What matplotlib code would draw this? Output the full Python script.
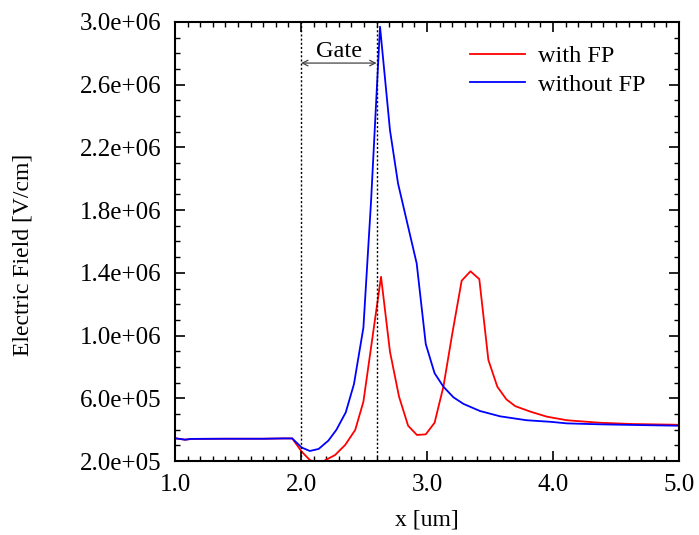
import numpy as np
import matplotlib
matplotlib.use("Agg")
import matplotlib.pyplot as plt
from matplotlib.ticker import MultipleLocator, FixedLocator, FormatStrFormatter

plt.rcParams['font.family'] = ['Liberation Serif', 'DejaVu Serif']

# ----- ----- ----- Data ----- ----- -----
x_without = [1.0, 1.08, 1.13, 1.4, 1.7, 1.86, 1.93, 2.005, 2.07, 2.14, 2.217, 2.28,
             2.355, 2.42, 2.495, 2.556, 2.627, 2.706, 2.77, 2.918, 2.99, 3.06, 3.13,
             3.21, 3.29, 3.42, 3.58, 3.79, 3.98, 4.11, 4.37, 4.63, 5.0]
E_without = [3.45e5, 3.36e5, 3.41e5, 3.42e5, 3.42e5, 3.44e5, 3.44e5, 2.86e5, 2.64e5,
             2.77e5, 3.3e5, 3.98e5, 5.1e5, 6.9e5, 1.05e6, 1.86e6, 2.97e6, 2.31e6,
             1.97e6, 1.46e6, 9.46e5, 7.6e5, 6.74e5, 6.06e5, 5.64e5, 5.19e5, 4.85e5,
             4.6e5, 4.5e5, 4.4e5, 4.34e5, 4.3e5, 4.25e5]

x_with = [1.0, 1.08, 1.13, 1.4, 1.7, 1.86, 1.93, 2.005, 2.07, 2.13, 2.18, 2.27, 2.35,
          2.43, 2.495, 2.635, 2.706, 2.778, 2.85, 2.92, 2.99, 3.06, 3.13, 3.20, 3.275,
          3.345, 3.415, 3.487, 3.558, 3.63, 3.70, 3.82, 3.95, 4.11, 4.37, 4.63, 5.0]
E_with = [3.45e5, 3.36e5, 3.41e5, 3.42e5, 3.42e5, 3.44e5, 3.44e5, 2.6e5, 2.06e5,
          1.9e5, 2.0e5, 2.38e5, 3.02e5, 3.98e5, 5.78e5, 1.375e6, 8.97e5, 6.1e5,
          4.25e5, 3.66e5, 3.7e5, 4.44e5, 6.74e5, 1.01e6, 1.35e6, 1.41e6, 1.36e6,
          8.44e5, 6.74e5, 5.93e5, 5.5e5, 5.15e5, 4.83e5, 4.6e5, 4.44e5, 4.36e5, 4.31e5]

y_ticks = [2.0e5, 6.0e5, 1.0e6, 1.4e6, 1.8e6, 2.2e6, 2.6e6, 3.0e6]

gate_start = 2.0
gate_end = 2.6

fig = plt.figure(figsize=(6.99, 5.35), dpi=100)
ax = fig.add_axes([0.2504, 0.1383, 0.721, 0.8206])

ax.plot(x_with, E_with, color='#ff0000', linewidth=1.3, label='with FP')
ax.plot(x_without, E_without, color='#0000ff', linewidth=1.3, label='without FP')

# Gate markers
ax.axvline(gate_start, color='k', linestyle=(0, (1.5, 1.5)), linewidth=1)
ax.axvline(gate_end, color='k', linestyle=(0, (1.5, 1.5)), linewidth=1)
ax.annotate('', xy=(gate_start, 2.738e6), xytext=(gate_end, 2.738e6),
            arrowprops=dict(arrowstyle='<->', color='#444444', lw=0.9,
                            shrinkA=0, shrinkB=0))
ax.text((gate_start + gate_end) / 2, 2.777e6, 'Gate', ha='center', va='baseline', fontsize=17.5)

ax.set_xlim(1.0, 5.0)
ax.set_ylim(2.0e5, 3.0e6)
ax.xaxis.set_major_locator(MultipleLocator(1.0))
ax.xaxis.set_minor_locator(MultipleLocator(0.1))
ax.yaxis.set_major_locator(FixedLocator(y_ticks))
ax.yaxis.set_minor_locator(MultipleLocator(1e5))
ax.xaxis.set_major_formatter(FormatStrFormatter('%.1f'))
ax.yaxis.set_major_formatter(plt.FuncFormatter(lambda v, p: '%.1e' % v))

ax.tick_params(which='both', direction='in', top=True, right=True, labelsize=18)
ax.tick_params(which='major', length=7, width=1.2)
ax.tick_params(which='minor', length=3.5, width=1)
ax.tick_params(axis='x', pad=9)
ax.tick_params(axis='y', pad=10)
for s in ax.spines.values():
    s.set_linewidth(1.5)

ax.set_xlabel('x [um]', fontsize=17, labelpad=10)
ax.set_ylabel('Electric Field [V/cm]', fontsize=17)
ax.yaxis.set_label_coords(-0.28, 0.47)

ax.legend(loc='upper left', frameon=False, fontsize=17.5, handlelength=2.25,
          handletextpad=0.55, labelspacing=0.28, borderpad=0, borderaxespad=0,
          bbox_to_anchor=(470 / 699, 1 - 45 / 535), bbox_transform=fig.transFigure)

fig.savefig('out.png', dpi=100)
